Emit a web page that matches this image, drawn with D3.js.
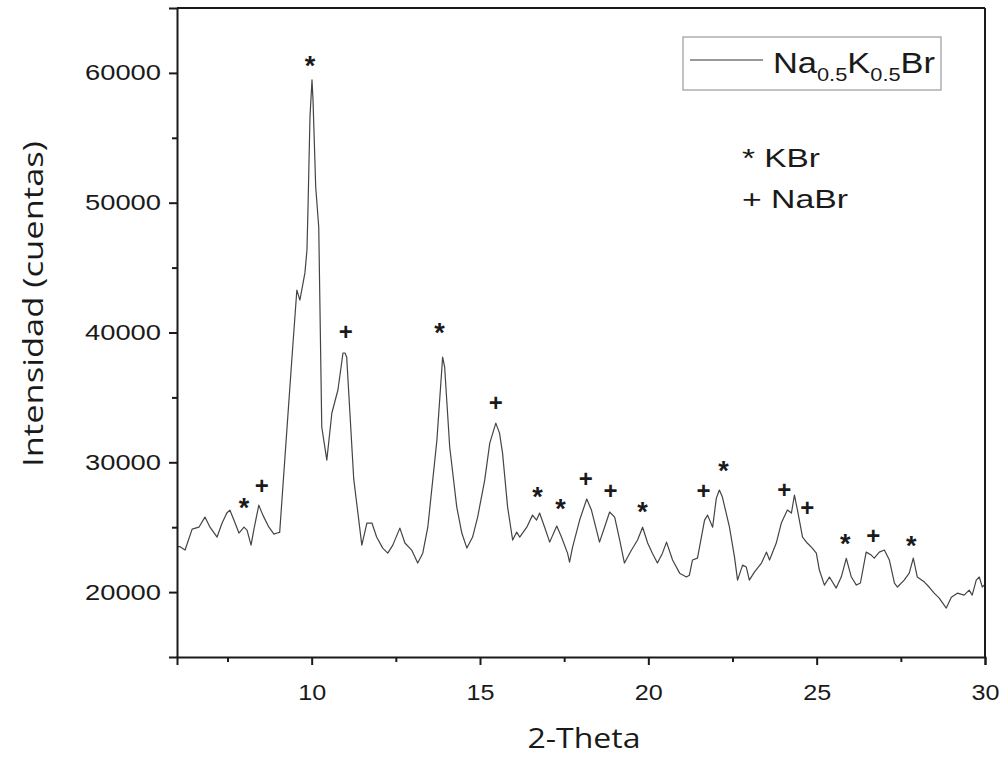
<!DOCTYPE html>
<html>
<head>
<meta charset="utf-8">
<script src="https://cdn.jsdelivr.net/npm/d3@7"></script>
<style>
  body { margin: 0; background: #fff; }
  svg { display: block; }
</style>
</head>
<body>
<div id="chart"></div>
<script>
// 2-Theta positions and intensities
const twoTheta = [
  6.00, 6.09, 6.24, 6.45, 6.65, 6.83, 6.98, 7.19, 7.34, 7.48, 7.57, 7.69, 7.84, 7.99, 8.08, 8.20,
  8.28, 8.43, 8.55, 8.73, 8.88, 8.97, 9.05, 9.25, 9.41, 9.56, 9.65, 9.80, 9.86, 9.89, 9.95, 10.01,
  10.04, 10.12, 10.21, 10.30, 10.45, 10.60, 10.78, 10.93, 10.99, 11.04, 11.25, 11.49, 11.64, 11.79,
  11.93, 12.11, 12.26, 12.41, 12.62, 12.77, 12.97, 13.15, 13.30, 13.45, 13.72, 13.89, 13.95, 14.10,
  14.31, 14.46, 14.61, 14.78, 14.93, 15.14, 15.29, 15.47, 15.58, 15.67, 15.82, 15.97, 16.09, 16.18,
  16.39, 16.56, 16.68, 16.77, 16.92, 17.07, 17.28, 17.42, 17.60, 17.66, 17.75, 17.96, 18.17, 18.31,
  18.55, 18.70, 18.85, 19.00, 19.15, 19.29, 19.50, 19.68, 19.83, 19.98, 20.12, 20.27, 20.42, 20.54,
  20.72, 20.93, 21.13, 21.22, 21.31, 21.46, 21.67, 21.76, 21.91, 22.02, 22.11, 22.20, 22.41, 22.56,
  22.65, 22.80, 22.91, 23.00, 23.15, 23.36, 23.51, 23.60, 23.80, 23.95, 24.13, 24.25, 24.34, 24.43,
  24.58, 24.72, 24.87, 24.99, 25.08, 25.23, 25.38, 25.58, 25.73, 25.88, 26.03, 26.18, 26.30, 26.47,
  26.62, 26.71, 26.86, 27.01, 27.16, 27.31, 27.40, 27.60, 27.75, 27.87, 27.99, 28.20, 28.34, 28.49,
  28.64, 28.85, 29.00, 29.18, 29.38, 29.53, 29.62, 29.74, 29.83, 29.92, 30.00
];
const intensity = [
  23500, 23500, 23240, 24850, 25000, 25780, 25000, 24240, 25320, 26090, 26320, 25550, 24550, 25010, 24780, 23620,
  24780, 26700, 25930, 25000, 24470, 24550, 24600, 32000, 37880, 43270, 42500, 44590, 46360, 49440, 56610, 59460,
  57920, 51210, 48130, 32720, 30170, 33800, 35570, 38420, 38420, 38110, 28700, 23620, 25320, 25320,
  24240, 23390, 23000, 23620, 24930, 23780, 23240, 22240, 23000, 25000, 31710, 38110, 37340, 31180,
  26550, 24550, 23390, 24240, 25780, 28630, 31480, 33020, 32250, 30710, 26550, 24010, 24620, 24240,
  25000, 25930, 25550, 26090, 25000, 23850, 25090, 24240, 23000, 22310, 23470, 25550, 27170, 26320,
  23850, 25000, 26170, 25780, 24010, 22240, 23240, 24010, 25000, 23780, 23000, 22240, 23000, 23850,
  22470, 21460, 21160, 21300, 22470, 22620, 25550, 25930, 25000, 27240, 27860, 27320, 25000, 22700,
  20920, 22080, 21930, 20920, 21540, 22240, 23080, 22470, 23780, 25320, 26320, 26090, 27480, 26320,
  24240, 23780, 23390, 23000, 21700, 20540, 21160, 20310, 21160, 22600, 21160, 20540, 20700, 23080,
  22850, 22620, 23080, 23240, 22470, 20690, 20390, 20920, 21460, 22620, 21160, 20770, 20390, 19920,
  19540, 18770, 19610, 19920, 19770, 20150, 19770, 20920, 21160, 20390, 20600
];

// peak labels: * KBr, + NaBr (position of the mark)
const kbrTheta = [7.99, 9.95, 13.80, 16.71, 17.39, 19.83, 22.23, 25.85, 27.81];
const kbrLevel = [26940, 61000, 40420, 27780, 26860, 26630, 29790, 24160, 24010];
const nabrTheta = [8.52, 11.01, 15.47, 18.14, 18.88, 21.64, 24.04, 24.72, 26.68];
const nabrLevel = [28170, 40040, 34560, 28710, 27780, 27780, 27860, 26470, 24320];

const xTicks = [10, 15, 20, 25, 30];
const xMinor = [7.5, 12.5, 17.5, 22.5, 27.5];
const yTicks = [20000, 30000, 40000, 50000, 60000];
const yMinor = [25000, 35000, 45000, 55000];

const W = 1003, H = 758;
const margin = {top: 8, right: 18, bottom: 101, left: 177};
const width = W - margin.left - margin.right;
const height = H - margin.top - margin.bottom;

const svg = d3.select("#chart").append("svg")
  .attr("width", W)
  .attr("height", H);

const g = svg.append("g")
  .attr("transform", `translate(${margin.left},${margin.top})`);

const x = d3.scaleLinear().domain([6, 30]).range([0, width]);
const y = d3.scaleLinear().domain([15000, 65000]).range([height, 0]);

const arial = "'Liberation Sans', Arial, sans-serif";
const ink = "#1a1a1a";

// data line
const data = twoTheta.map((t, i) => ({t, v: intensity[i]}));
g.append("path")
  .datum(data)
  .attr("fill", "none")
  .attr("stroke", "#444")
  .attr("stroke-width", 1.2)
  .attr("stroke-linejoin", "round")
  .attr("d", d3.line().x(d => x(d.t)).y(d => y(d.v)));

// X axis
g.append("g")
  .attr("class", "xaxis")
  .attr("transform", `translate(0,${height})`)
  .call(d3.axisBottom(x).tickValues(xTicks).tickSize(8).tickPadding(19).tickFormat(d3.format("d")));
g.append("g")
  .attr("transform", `translate(0,${height})`)
  .call(d3.axisBottom(x).tickValues(xMinor).tickSize(5).tickFormat(""))
  .select(".domain").remove();

// Y axis
g.append("g")
  .attr("class", "yaxis")
  .call(d3.axisLeft(y).tickValues(yTicks).tickSize(8).tickPadding(8).tickFormat(d3.format("d")));
g.append("g")
  .call(d3.axisLeft(y).tickValues(yMinor).tickSize(5).tickFormat(""))
  .select(".domain").remove();

g.selectAll(".domain").attr("stroke", ink).attr("stroke-width", 2);
g.selectAll(".tick line").attr("stroke", ink).attr("stroke-width", 2);
g.selectAll(".tick text")
  .style("font-family", arial)
  .style("font-size", "22px")
  .attr("fill", ink)
  .attr("lengthAdjust", "spacingAndGlyphs");
g.selectAll(".yaxis .tick text").attr("textLength", 76);
g.selectAll(".xaxis .tick text").attr("textLength", 28);

// frame top/right
g.append("line").attr("x1", 0).attr("x2", width).attr("y1", 0).attr("y2", 0)
  .attr("stroke", ink).attr("stroke-width", 2);
g.append("line").attr("x1", width).attr("x2", width).attr("y1", 0).attr("y2", height)
  .attr("stroke", ink).attr("stroke-width", 2);

// peak marks
g.selectAll(".kbr")
  .data(kbrTheta.map((t, i) => ({t, v: kbrLevel[i]})))
  .enter().append("text")
    .attr("class", "kbr")
    .attr("x", d => x(d.t))
    .attr("y", d => y(d.v) + 15)
    .attr("text-anchor", "middle")
    .style("font-family", arial)
    .style("font-size", "27px")
    .style("font-weight", "bold")
    .attr("fill", ink)
    .text("*");
g.selectAll(".nabr")
  .data(nabrTheta.map((t, i) => ({t, v: nabrLevel[i]})))
  .enter().append("text")
    .attr("class", "nabr")
    .attr("x", d => x(d.t))
    .attr("y", d => y(d.v) + 8)
    .attr("text-anchor", "middle")
    .style("font-family", arial)
    .style("font-size", "24px")
    .style("font-weight", "bold")
    .attr("fill", ink)
    .text("+");

// axis titles
svg.append("text")
  .attr("x", 584)
  .attr("y", 748)
  .attr("text-anchor", "middle")
  .attr("textLength", 113)
  .attr("lengthAdjust", "spacingAndGlyphs")
  .style("font-family", "'Open Sans', sans-serif")
  .style("font-size", "27px")
  .attr("fill", ink)
  .text("2-Theta");
svg.append("text")
  .attr("transform", `translate(43,304) rotate(-90)`)
  .attr("text-anchor", "middle")
  .attr("textLength", 326)
  .attr("lengthAdjust", "spacingAndGlyphs")
  .style("font-family", "'Open Sans', sans-serif")
  .style("font-size", "27px")
  .attr("fill", ink)
  .text("Intensidad (cuentas)");

// legend
const legend = svg.append("g");
legend.append("rect")
  .attr("x", 683).attr("y", 37).attr("width", 258).attr("height", 53)
  .attr("fill", "#fff").attr("stroke", "#999").attr("stroke-width", 1.2);
legend.append("line")
  .attr("x1", 690).attr("x2", 763).attr("y1", 60).attr("y2", 60)
  .attr("stroke", "#777").attr("stroke-width", 1.5);
const lt = legend.append("text")
  .attr("x", 773).attr("y", 73)
  .attr("textLength", 162)
  .attr("lengthAdjust", "spacingAndGlyphs")
  .style("font-family", arial)
  .style("font-size", "30px")
  .attr("fill", ink);
lt.append("tspan").text("Na");
lt.append("tspan").attr("dy", 8).style("font-size", "19px").text("0.5");
lt.append("tspan").attr("dy", -8).text("K");
lt.append("tspan").attr("dy", 8).style("font-size", "19px").text("0.5");
lt.append("tspan").attr("dy", -8).text("Br");

const noteSym = ["*", "+"];
const noteName = ["KBr", "NaBr"];
noteName.forEach((name, i) => {
  svg.append("text")
    .attr("x", 742).attr("y", 167 + i * 41)
    .attr("textLength", i === 0 ? 78 : 106)
    .attr("lengthAdjust", "spacingAndGlyphs")
    .style("font-family", arial)
    .style("font-size", "26px")
    .attr("fill", ink)
    .text(noteSym[i] + " " + name);
});
</script>
</body>
</html>
